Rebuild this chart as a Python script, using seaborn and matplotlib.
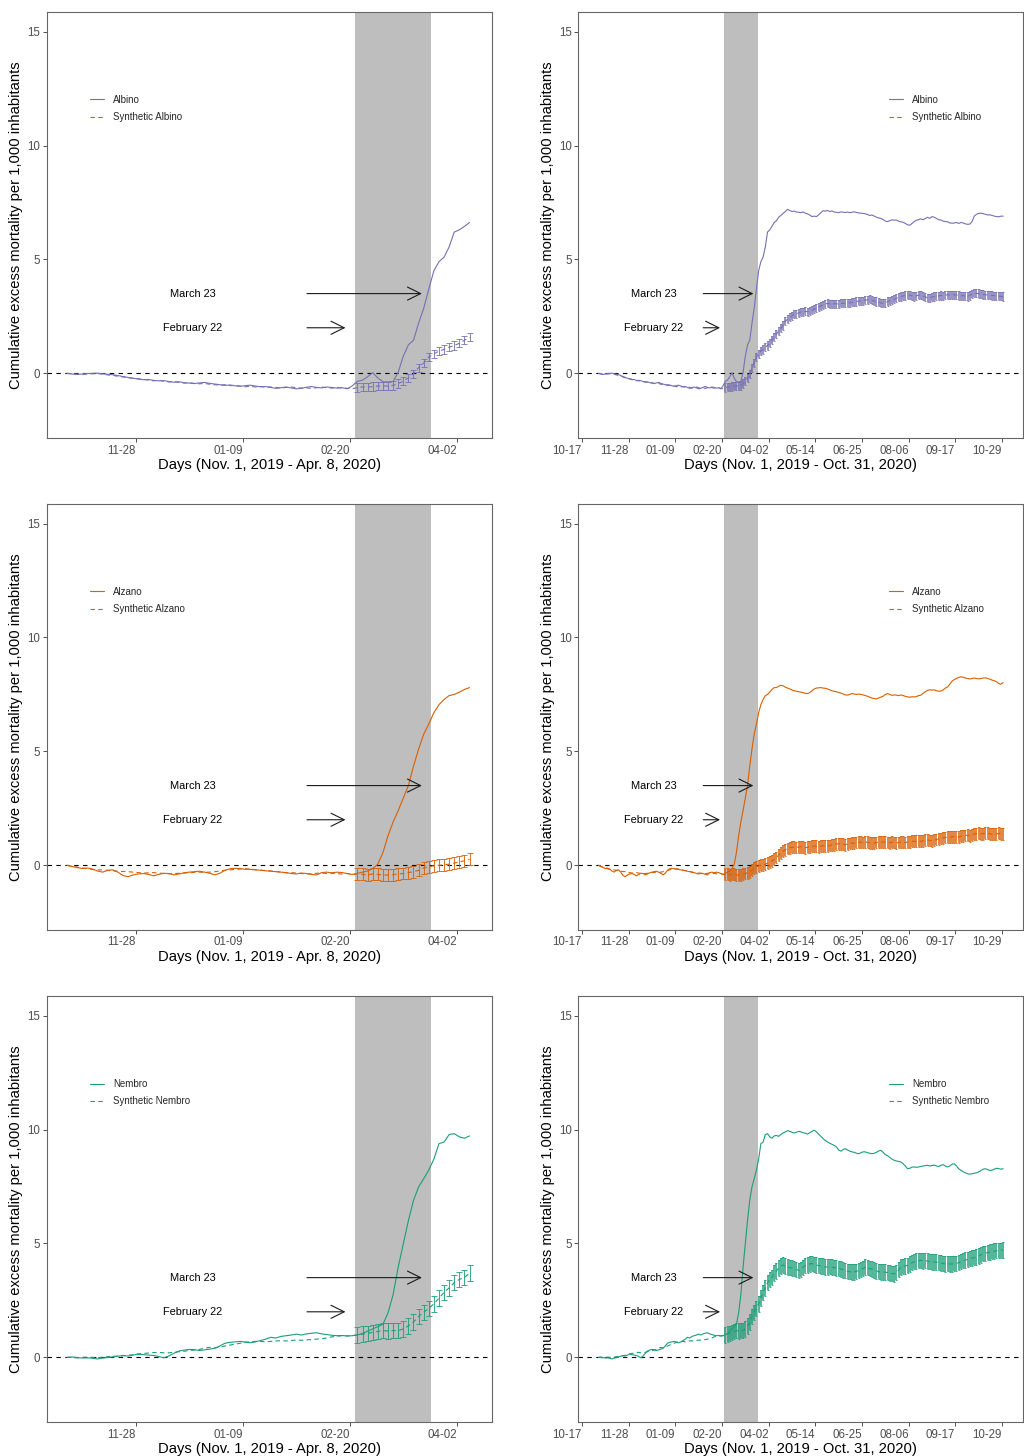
import numpy as np
import pandas as pd
import matplotlib
matplotlib.use("Agg")
import matplotlib.pyplot as plt
from matplotlib.lines import Line2D
import seaborn as sns

# ---------------- data (day index: 0 = Nov 1, 2019, sampled every 2 days) ----------------
DAYS = list(range(0, 365, 2))
SHADE_START = 113   # February 22, 2020
SHADE_END = 143     # March 23, 2020
LEFT_LAST_DAY = 159 # April 8, 2020

TOWNS = ["Albino", "Alzano", "Nembro"]
COLORS = {"Albino": "#7570B3", "Alzano": "#D95F02", "Nembro": "#1B9E77"}

ALBINO_ACTUAL = [
    0.00, -0.03, -0.05, -0.03, -0.01, 0.00, 0.01, -0.02, -0.04, -0.06,
    -0.10, -0.14, -0.18, -0.22, -0.25, -0.28, -0.27, -0.31, -0.33, -0.32,
    -0.36, -0.39, -0.37, -0.41, -0.43, -0.45, -0.42, -0.40, -0.44, -0.47,
    -0.50, -0.53, -0.51, -0.55, -0.57, -0.54, -0.52, -0.56, -0.59, -0.58,
    -0.62, -0.66, -0.63, -0.60, -0.64, -0.68, -0.66, -0.61, -0.58, -0.62,
    -0.64, -0.60, -0.62, -0.65, -0.63, -0.68, -0.55, -0.35, -0.30, -0.15,
    0.03, -0.20, -0.37, -0.38, -0.36, 0.05, 0.75, 1.25, 1.45, 2.20,
    2.85, 3.70, 4.50, 4.90, 5.10, 5.55, 6.20, 6.30, 6.45, 6.62,
    6.70, 6.85, 6.93, 7.02, 7.10, 7.20, 7.15, 7.10, 7.12, 7.08,
    7.07, 7.05, 7.08, 7.03, 7.00, 6.95, 6.88, 6.90, 6.88, 6.96,
    7.05, 7.14, 7.12, 7.15, 7.10, 7.13, 7.08, 7.07, 7.05, 7.09,
    7.07, 7.06, 7.08, 7.05, 7.07, 7.09, 7.06, 7.04, 7.03, 7.02,
    7.00, 6.97, 6.93, 6.95, 6.90, 6.85, 6.82, 6.80, 6.75, 6.68,
    6.66, 6.70, 6.74, 6.72, 6.73, 6.68, 6.65, 6.63, 6.58, 6.52,
    6.50, 6.58, 6.66, 6.72, 6.75, 6.78, 6.74, 6.80, 6.85, 6.80,
    6.88, 6.85, 6.80, 6.74, 6.73, 6.68, 6.66, 6.65, 6.60, 6.59,
    6.60, 6.62, 6.58, 6.62, 6.60, 6.56, 6.54, 6.55, 6.66, 6.90,
    6.98, 7.02, 7.03, 7.01, 6.98, 6.95, 6.96, 6.93, 6.90, 6.88,
    6.87, 6.90, 6.90,
]
ALBINO_SYNTH = [
    0.00, -0.02, -0.04, -0.05, -0.03, -0.02, -0.01, -0.04, -0.07, -0.09,
    -0.13, -0.16, -0.20, -0.21, -0.24, -0.26, -0.30, -0.33, -0.30, -0.35,
    -0.38, -0.36, -0.40, -0.43, -0.41, -0.44, -0.46, -0.44, -0.48, -0.50,
    -0.52, -0.50, -0.54, -0.53, -0.56, -0.59, -0.57, -0.60, -0.58, -0.61,
    -0.60, -0.62, -0.65, -0.62, -0.60, -0.63, -0.65, -0.64, -0.66, -0.63,
    -0.60, -0.63, -0.65, -0.62, -0.64, -0.66, -0.68, -0.62, -0.60, -0.61,
    -0.58, -0.56, -0.55, -0.56, -0.53, -0.45, -0.35, -0.20, -0.02, 0.25,
    0.45, 0.72, 0.85, 0.98, 1.05, 1.15, 1.22, 1.32, 1.45, 1.58,
    1.72, 1.85, 1.98, 2.10, 2.28, 2.38, 2.46, 2.52, 2.60, 2.62,
    2.65, 2.70, 2.68, 2.72, 2.70, 2.74, 2.78, 2.82, 2.85, 2.92,
    2.96, 3.00, 3.04, 3.07, 3.05, 3.03, 3.06, 3.05, 3.04, 3.07,
    3.07, 3.08, 3.10, 3.09, 3.12, 3.14, 3.15, 3.17, 3.16, 3.19,
    3.21, 3.23, 3.25, 3.22, 3.17, 3.15, 3.12, 3.10, 3.07, 3.10,
    3.15, 3.19, 3.22, 3.25, 3.30, 3.35, 3.37, 3.40, 3.42, 3.44,
    3.44, 3.40, 3.37, 3.40, 3.44, 3.43, 3.40, 3.36, 3.30, 3.32,
    3.35, 3.37, 3.38, 3.40, 3.42, 3.40, 3.44, 3.45, 3.43, 3.44,
    3.45, 3.44, 3.42, 3.40, 3.41, 3.39, 3.37, 3.42, 3.48, 3.52,
    3.51, 3.50, 3.48, 3.46, 3.45, 3.44, 3.43, 3.42, 3.41, 3.40,
    3.39, 3.38, 3.37,
]
ALBINO_ERR = 0.18

ALZANO_ACTUAL = [
    0.00, -0.05, -0.10, -0.14, -0.12, -0.16, -0.25, -0.30, -0.22, -0.20,
    -0.30, -0.45, -0.50, -0.42, -0.38, -0.36, -0.40, -0.46, -0.40, -0.35,
    -0.36, -0.42, -0.38, -0.33, -0.30, -0.28, -0.26, -0.30, -0.35, -0.42,
    -0.35, -0.22, -0.15, -0.13, -0.15, -0.17, -0.18, -0.20, -0.22, -0.24,
    -0.26, -0.28, -0.30, -0.32, -0.36, -0.38, -0.34, -0.36, -0.40, -0.42,
    -0.32, -0.30, -0.33, -0.30, -0.32, -0.36, -0.40, -0.35, -0.30, -0.25,
    -0.15, 0.05, 0.55, 1.30, 1.90, 2.40, 2.95, 3.50, 4.35, 5.10,
    5.75, 6.20, 6.70, 7.05, 7.28, 7.45, 7.50, 7.60, 7.72, 7.80,
    7.80, 7.86, 7.90, 7.88, 7.82, 7.78, 7.74, 7.70, 7.66, 7.64,
    7.62, 7.60, 7.58, 7.55, 7.54, 7.58, 7.66, 7.74, 7.78, 7.79,
    7.80, 7.78, 7.77, 7.74, 7.70, 7.66, 7.64, 7.62, 7.58, 7.56,
    7.52, 7.48, 7.47, 7.50, 7.54, 7.52, 7.50, 7.52, 7.50, 7.48,
    7.45, 7.42, 7.38, 7.34, 7.32, 7.30, 7.35, 7.38, 7.42, 7.50,
    7.54, 7.50, 7.46, 7.48, 7.47, 7.45, 7.48, 7.45, 7.42, 7.39,
    7.38, 7.40, 7.39, 7.41, 7.45, 7.47, 7.55, 7.62, 7.68, 7.70,
    7.69, 7.70, 7.66, 7.64, 7.65, 7.70, 7.78, 7.83, 7.95, 8.08,
    8.15, 8.20, 8.25, 8.27, 8.26, 8.22, 8.20, 8.18, 8.20, 8.22,
    8.20, 8.18, 8.20, 8.22, 8.23, 8.20, 8.17, 8.13, 8.10, 8.06,
    7.98, 7.95, 8.02,
]
ALZANO_SYNTH = [
    0.00, -0.04, -0.08, -0.12, -0.15, -0.18, -0.20, -0.20, -0.22, -0.24,
    -0.26, -0.27, -0.28, -0.30, -0.32, -0.34, -0.33, -0.32, -0.34, -0.36,
    -0.37, -0.36, -0.35, -0.34, -0.32, -0.31, -0.30, -0.31, -0.30, -0.28,
    -0.25, -0.22, -0.20, -0.18, -0.16, -0.15, -0.17, -0.19, -0.21, -0.23,
    -0.25, -0.27, -0.30, -0.33, -0.32, -0.34, -0.36, -0.38, -0.37, -0.35,
    -0.34, -0.36, -0.35, -0.37, -0.38, -0.36, -0.40, -0.38, -0.40, -0.42,
    -0.38, -0.40, -0.42, -0.43, -0.41, -0.38, -0.36, -0.32, -0.28, -0.22,
    -0.12, -0.06, -0.02, 0.00, 0.02, 0.05, 0.10, 0.15, 0.20, 0.26,
    0.34, 0.45, 0.55, 0.62, 0.68, 0.74, 0.77, 0.79, 0.80, 0.78,
    0.80, 0.82, 0.79, 0.77, 0.79, 0.81, 0.84, 0.85, 0.83, 0.82,
    0.84, 0.86, 0.85, 0.84, 0.87, 0.90, 0.91, 0.93, 0.95, 0.94,
    0.92, 0.91, 0.93, 0.96, 0.98, 0.97, 1.00, 1.02, 1.01, 1.00,
    1.02, 1.01, 0.99, 0.97, 0.98, 1.00, 1.02, 1.01, 1.03, 1.02,
    1.00, 0.99, 1.01, 1.00, 0.98, 1.00, 1.02, 1.01, 1.00, 1.02,
    1.04, 1.05, 1.05, 1.06, 1.07, 1.05, 1.08, 1.10, 1.11, 1.09,
    1.08, 1.10, 1.13, 1.16, 1.18, 1.20, 1.22, 1.24, 1.23, 1.25,
    1.26, 1.25, 1.24, 1.27, 1.29, 1.31, 1.32, 1.30, 1.34, 1.37,
    1.39, 1.40, 1.38, 1.39, 1.40, 1.41, 1.38, 1.36, 1.37, 1.38,
    1.40, 1.39, 1.39,
]
ALZANO_ERR = 0.26

NEMBRO_ACTUAL = [
    0.00, 0.02, -0.01, -0.03, -0.02, -0.04, -0.07, -0.03, -0.01, 0.02,
    0.05, 0.08, 0.06, 0.10, 0.14, 0.12, 0.10, 0.08, 0.04, -0.02,
    0.06, 0.18, 0.28, 0.32, 0.35, 0.34, 0.30, 0.33, 0.36, 0.40,
    0.50, 0.62, 0.66, 0.68, 0.70, 0.67, 0.64, 0.68, 0.74, 0.80,
    0.88, 0.85, 0.92, 0.95, 0.98, 1.02, 0.98, 1.03, 1.06, 1.08,
    1.03, 1.00, 0.97, 0.95, 0.96, 0.94, 0.95, 0.98, 1.05, 1.15,
    1.25, 1.35, 1.45, 1.95, 2.75, 3.96, 4.98, 6.00, 6.89, 7.48,
    7.84, 8.22, 8.70, 9.38, 9.45, 9.78, 9.82, 9.68, 9.62, 9.72,
    9.74, 9.70, 9.78, 9.85, 9.90, 9.95, 9.92, 9.88, 9.85, 9.88,
    9.92, 9.90, 9.86, 9.84, 9.80, 9.86, 9.92, 9.97, 9.90, 9.80,
    9.70, 9.60, 9.52, 9.45, 9.40, 9.35, 9.30, 9.24, 9.10, 9.05,
    9.12, 9.16, 9.10, 9.05, 9.02, 9.00, 8.96, 8.94, 8.98, 9.02,
    9.02, 8.98, 8.96, 8.94, 8.96, 9.00, 9.06, 9.09, 9.00, 8.90,
    8.85, 8.78, 8.70, 8.65, 8.62, 8.60, 8.58, 8.50, 8.40, 8.28,
    8.30, 8.35, 8.36, 8.34, 8.36, 8.38, 8.40, 8.42, 8.43, 8.40,
    8.42, 8.44, 8.40, 8.38, 8.43, 8.46, 8.40, 8.36, 8.40, 8.48,
    8.50, 8.40, 8.28, 8.21, 8.15, 8.10, 8.06, 8.04, 8.06, 8.08,
    8.10, 8.14, 8.20, 8.26, 8.28, 8.24, 8.20, 8.22, 8.26, 8.30,
    8.28, 8.26, 8.28,
]
NEMBRO_SYNTH = [
    0.00, -0.01, -0.02, 0.00, 0.01, 0.00, -0.02, 0.01, 0.03, 0.04,
    0.06, 0.07, 0.09, 0.12, 0.15, 0.17, 0.19, 0.21, 0.22, 0.20,
    0.20, 0.22, 0.25, 0.27, 0.30, 0.32, 0.35, 0.40, 0.44, 0.42,
    0.45, 0.50, 0.54, 0.58, 0.62, 0.66, 0.69, 0.70, 0.70, 0.68,
    0.70, 0.72, 0.73, 0.72, 0.74, 0.76, 0.75, 0.77, 0.78, 0.80,
    0.82, 0.85, 0.90, 0.93, 0.95, 0.94, 0.96, 0.98, 1.02, 1.05,
    1.10, 1.14, 1.17, 1.16, 1.18, 1.17, 1.25, 1.38, 1.55, 1.80,
    1.98, 2.15, 2.35, 2.60, 2.85, 3.05, 3.28, 3.42, 3.50, 3.70,
    3.80, 3.92, 4.02, 4.05, 4.00, 3.96, 3.94, 3.92, 3.90, 3.86,
    3.82, 3.85, 3.95, 4.03, 4.06, 4.10, 4.12, 4.08, 4.05, 4.03,
    4.01, 4.00, 3.97, 3.96, 3.98, 3.96, 3.94, 3.92, 3.90, 3.88,
    3.84, 3.82, 3.78, 3.76, 3.74, 3.75, 3.78, 3.81, 3.85, 3.90,
    3.96, 3.94, 3.90, 3.88, 3.84, 3.80, 3.76, 3.74, 3.75, 3.74,
    3.72, 3.70, 3.68, 3.67, 3.72, 3.85, 3.96, 3.98, 4.02, 4.04,
    4.10, 4.16, 4.20, 4.22, 4.25, 4.26, 4.24, 4.25, 4.22, 4.20,
    4.18, 4.19, 4.18, 4.17, 4.15, 4.12, 4.10, 4.11, 4.10, 4.10,
    4.12, 4.13, 4.16, 4.20, 4.25, 4.27, 4.30, 4.33, 4.36, 4.38,
    4.40, 4.45, 4.50, 4.55, 4.57, 4.60, 4.62, 4.64, 4.66, 4.68,
    4.69, 4.70, 4.72,
]
NEMBRO_ERR = 0.34

SERIES = {
    "Albino": (ALBINO_ACTUAL, ALBINO_SYNTH, ALBINO_ERR),
    "Alzano": (ALZANO_ACTUAL, ALZANO_SYNTH, ALZANO_ERR),
    "Nembro": (NEMBRO_ACTUAL, NEMBRO_SYNTH, NEMBRO_ERR),
}

TICKS_LEFT = [27, 69, 111, 153]
TICK_LABELS_LEFT = ["11-28", "01-09", "02-20", "04-02"]
TICKS_RIGHT = [-15, 27, 69, 111, 153, 195, 237, 279, 321, 363]
TICK_LABELS_RIGHT = ["10-17", "11-28", "01-09", "02-20", "04-02",
                     "05-14", "06-25", "08-06", "09-17", "10-29"]
XLABEL_LEFT = "Days (Nov. 1, 2019 - Apr. 8, 2020)"
XLABEL_RIGHT = "Days (Nov. 1, 2019 - Oct. 31, 2020)"
YLABEL = "Cumulative excess mortality per 1,000 inhabitants"
Y_TICKS = [0, 5, 10, 15]

# ---------------- style ----------------
sns.set_theme(style="ticks")
plt.rcParams["font.family"] = ["Liberation Sans", "DejaVu Sans"]

fig = plt.figure(figsize=(10.24, 14.56), dpi=100)

col_x = [0.0456, 0.5648]
col_w = [0.4352, 0.4346]
row_y = [0.6990, 0.3611, 0.02315]
row_h = 0.2926

LW = 0.8
DASH = (0, (4, 3))


def draw_panel(ax, town, full):
    actual, synth, err = SERIES[town]
    color = COLORS[town]
    df = pd.DataFrame({"day": DAYS, "actual": actual, "synth": synth})
    last_day = 364 if full else LEFT_LAST_DAY
    df = df[df["day"] <= last_day]

    ax.axvspan(SHADE_START, SHADE_END, color="#BEBEBE", lw=0, zorder=0)
    ax.axhline(0, color="black", lw=0.8, ls=(0, (4, 4)), zorder=1)

    sns.lineplot(data=df, x="day", y="actual", ax=ax, color=color,
                 lw=LW, zorder=3, legend=False)
    sns.lineplot(data=df, x="day", y="synth", ax=ax, color=color,
                 lw=LW, linestyle=DASH, zorder=3, legend=False)

    post = df[df["day"] > SHADE_START]
    if full:
        capsize, elw, alpha = 0.8, 1.25, 0.85
    else:
        capsize, elw, alpha = 1.85, 0.75, 0.85
    ax.errorbar(post["day"], post["synth"], yerr=err, fmt="none",
                ecolor=color, elinewidth=elw, capsize=capsize,
                capthick=0.7, alpha=alpha, zorder=2)

    # annotations
    ax.text(49.3, 3.5, "March 23", ha="center", va="center",
            fontsize=7.9, color="black")
    ax.text(49.3, 2.0, "February 22", ha="center", va="center",
            fontsize=7.9, color="black")
    aprops = dict(arrowstyle="->,head_length=0.95,head_width=0.47",
                  lw=0.8, color="#1a1a1a", shrinkA=0, shrinkB=0,
                  mutation_scale=10)
    ax.annotate("", xy=(139.3, 3.5), xytext=(94.2, 3.5), arrowprops=aprops)
    ax.annotate("", xy=(109.3, 2.0), xytext=(94.2, 2.0), arrowprops=aprops)

    # axes
    ax.set_ylim(-2.85, 15.85)
    if full:
        ax.set_xlim(-18.2, 382.2)
        ax.set_xticks(TICKS_RIGHT)
        ax.set_xticklabels(TICK_LABELS_RIGHT, ha="right")
        ax.set_xlabel(XLABEL_RIGHT, fontsize=10.6, labelpad=1, color="black")
    else:
        ax.set_xlim(-7.95, 166.95)
        ax.set_xticks(TICKS_LEFT)
        ax.set_xticklabels(TICK_LABELS_LEFT, ha="right")
        ax.set_xlabel(XLABEL_LEFT, fontsize=10.6, labelpad=1, color="black")
    ax.set_yticks(Y_TICKS)
    ax.set_yticklabels([str(v) for v in Y_TICKS])
    ax.set_ylabel(YLABEL, fontsize=10.6, labelpad=3, color="black")
    ax.tick_params(axis="both", direction="out", length=3, width=0.6,
                   color="#333333", labelsize=8.3, labelcolor="#4D4D4D",
                   pad=1.5, bottom=True, left=True)
    for sp in ax.spines.values():
        sp.set_visible(True)
        sp.set_color("#666666")
        sp.set_linewidth(0.8)

    # legend
    handles = [Line2D([], [], color=color, lw=LW),
               Line2D([], [], color=color, lw=LW, ls=DASH)]
    labels = [town, "Synthetic " + town]
    lx = 0.698 if full else 0.097
    ax.legend(handles, labels, loc="upper left", bbox_to_anchor=(lx, 0.806),
              frameon=False, fontsize=7.0, handlelength=1.4,
              handletextpad=0.95, labelspacing=0.75, borderpad=0,
              borderaxespad=0)


for r, town in enumerate(TOWNS):
    for c in range(2):
        ax = fig.add_axes([col_x[c], row_y[r], col_w[c], row_h])
        draw_panel(ax, town, full=(c == 1))

fig.savefig("out.png", dpi=100)
